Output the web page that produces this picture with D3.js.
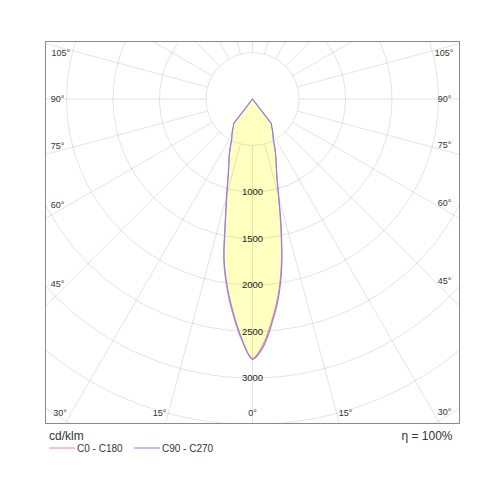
<!DOCTYPE html>
<html>
<head>
<meta charset="utf-8">
<script src="https://cdn.jsdelivr.net/npm/d3@7"></script>
<style>
  html, body { margin: 0; padding: 0; background: #fff; }
  svg { display: block; font-family: "Liberation Sans", Arial, sans-serif; }
</style>
</head>
<body>
<svg id="chart" width="500" height="500"></svg>
<script>
// ---- data ----
const gammaAngles = [0, 2.5, 5, 7.5, 10, 12.5, 15, 17.5, 20, 22.5, 25, 27.5, 30, 32.5, 35, 37.5, 40, 90, 180];
const c0Values   = [2790, 2640, 2390, 2120, 1790, 1405, 1080, 868, 742, 650, 560, 484, 440, 398, 358, 334, 0, 0, 0];
const c180Values = [2790, 2600, 2345, 2075, 1775, 1360, 1075, 872, 744, 652, 562, 486, 442, 400, 358, 336, 0, 0, 0];
const c90Values  = [2800, 2666, 2417, 2149, 1816, 1428, 1095, 875, 745, 652, 562, 485, 441, 399, 360, 335, 0, 0, 0];
const c270Values = [2800, 2586, 2322, 2054, 1758, 1343, 1067, 870, 743, 652, 562, 485, 441, 399, 357, 335, 0, 0, 0];
const ringValues = [500, 1000, 1500, 2000, 2500, 3000, 3500, 4000, 4500];
const ringLabels = [1000, 1500, 2000, 2500, 3000];
const radialAngles = [0, 15, 30, 45, 60, 75, 90, 105, 120, 135, 150, 165, 180];
const sideLabelAngles = [105, 90, 75, 60, 45, 30];
const bottomLabelAngles = [15, 0];
const unitLabel = "cd/klm";
const efficiencyLabel = "η = 100%";
const seriesNames = ["C0 - C180", "C90 - C270"];
const seriesColors = ["#ff8080", "#8080ff"];

// ---- layout ----
const svg = d3.select("#chart");
const frame = { left: 45.5, top: 41.5, right: 459.5, bottom: 423.5 };
const cx = 252.5, cy = 99;
const r = d3.scaleLinear().domain([0, 500]).range([0, 46.5]);
const rad = d => d * Math.PI / 180;

svg.append("rect").attr("width", 500).attr("height", 500).attr("fill", "#fff");

svg.append("defs").append("clipPath").attr("id", "clip")
  .append("rect")
  .attr("x", frame.left).attr("y", frame.top)
  .attr("width", frame.right - frame.left).attr("height", frame.bottom - frame.top);

const plot = svg.append("g").attr("clip-path", "url(#clip)");

// polar point: gamma measured from downward vertical, side +1 right, -1 left
const pt = (g, v, side) => [cx + side * r(v) * Math.sin(rad(g)), cy + r(v) * Math.cos(rad(g))];

const smooth = d3.line().curve(d3.curveCatmullRom.alpha(0.5));
function curvePath(rightVals, leftVals) {
  const idx = gammaAngles.map((g, i) => i).filter(i => rightVals[i] > 0 || leftVals[i] > 0);
  const left = idx.map(i => pt(gammaAngles[i], leftVals[i], -1)).reverse();
  const right = idx.map(i => pt(gammaAngles[i], rightVals[i], 1));
  const pts = left.concat(right.slice(1));
  const body = smooth(pts).replace(/^M/, "L");
  return `M${cx},${cy}` + body + `L${cx},${cy}Z`;
}
const curves = [
  { d: curvePath(c0Values, c180Values), color: seriesColors[0] },
  { d: curvePath(c90Values, c270Values), color: seriesColors[1] }
];

// fill
plot.selectAll("path.fill").data(curves).join("path")
  .attr("class", "fill")
  .attr("d", d => d.d)
  .attr("fill", "#ffffc0")
  .attr("stroke", "none");

// grid rings
plot.selectAll("circle.ring").data(ringValues).join("circle")
  .attr("cx", cx).attr("cy", cy).attr("r", d => r(d))
  .attr("fill", "none").attr("stroke", "#000").attr("stroke-opacity", 0.11).attr("stroke-width", 1);

// radial lines (both sides)
const radials = [];
radialAngles.forEach(a => { radials.push([a, 1]); if (a !== 0 && a !== 180) radials.push([a, -1]); });
plot.selectAll("line.radial").data(radials).join("line")
  .attr("x1", d => pt(d[0], 500, d[1])[0]).attr("y1", d => pt(d[0], 500, d[1])[1])
  .attr("x2", d => pt(d[0], 6000, d[1])[0]).attr("y2", d => pt(d[0], 6000, d[1])[1])
  .attr("stroke", "#000").attr("stroke-opacity", 0.11).attr("stroke-width", 1);

// curves outlines
plot.selectAll("path.curve").data(curves).join("path")
  .attr("class", "curve")
  .attr("d", d => d.d)
  .attr("fill", "none")
  .attr("stroke", d => d.color)
  .attr("stroke-width", 1.1)
  .attr("stroke-linejoin", "round");

// ring labels
svg.selectAll("text.ringlab").data(ringLabels).join("text")
  .attr("x", cx).attr("y", d => cy + r(d))
  .attr("dy", "0.35em")
  .attr("text-anchor", "middle")
  .attr("font-size", 9.5).attr("fill", "#222")
  .text(d => d);

// frame
svg.append("rect")
  .attr("x", frame.left).attr("y", frame.top)
  .attr("width", frame.right - frame.left).attr("height", frame.bottom - frame.top)
  .attr("fill", "none").attr("stroke", "#8a8a8a").attr("stroke-width", 1);

// angle labels: ray (slightly offset toward horizontal) intersected with an inset box
const inset = { left: 57.5, right: 444.5, top: 53, bottom: 413 };
function labelPos(a, side) {
  const la = a === 0 ? 0 : a + 1.5 * Math.sign(90 - a);
  const dx = side * Math.sin(rad(la)), dy = Math.cos(rad(la));
  let t = Infinity;
  if (Math.abs(dx) > 1e-9) t = Math.min(t, (side > 0 ? inset.right - cx : cx - inset.left) / Math.abs(dx));
  if (dy > 1e-9) t = Math.min(t, (inset.bottom - cy) / dy);
  if (dy < -1e-9) t = Math.min(t, (cy - inset.top) / -dy);
  let x = cx + t * dx, y = cy + t * dy;
  x = Math.max(inset.left, Math.min(inset.right, x));
  y = Math.max(inset.top, Math.min(inset.bottom, y));
  return [x, y];
}
const angleLabels = [];
sideLabelAngles.forEach(a => { angleLabels.push([a, -1]); angleLabels.push([a, 1]); });
bottomLabelAngles.forEach(a => { angleLabels.push([a, -1]); if (a !== 0) angleLabels.push([a, 1]); });
svg.selectAll("text.anglab").data(angleLabels).join("text")
  .attr("x", d => labelPos(d[0], d[1])[0])
  .attr("y", d => labelPos(d[0], d[1])[1])
  .attr("dy", "0.35em")
  .attr("text-anchor", "middle")
  .attr("font-size", 9).attr("fill", "#333")
  .text(d => d[0] + "°");

// bottom texts
svg.append("text").attr("x", 49).attr("y", 440)
  .attr("font-size", 12).attr("fill", "#333").text(unitLabel);
svg.append("text").attr("x", 452.5).attr("y", 440)
  .attr("text-anchor", "end")
  .attr("font-size", 12).attr("fill", "#333").text(efficiencyLabel);

// legend
const legend = svg.append("g").selectAll("g").data(seriesNames).join("g")
  .attr("transform", (d, i) => `translate(${49 + i * 85},448)`);
legend.append("line").attr("x1", 0).attr("x2", 26).attr("y1", 0).attr("y2", 0)
  .attr("stroke", (d, i) => seriesColors[i]).attr("stroke-width", 1);
legend.append("text").attr("x", 28).attr("y", 4)
  .attr("font-size", 10).attr("fill", "#333").text(d => d);
</script>
</body>
</html>
